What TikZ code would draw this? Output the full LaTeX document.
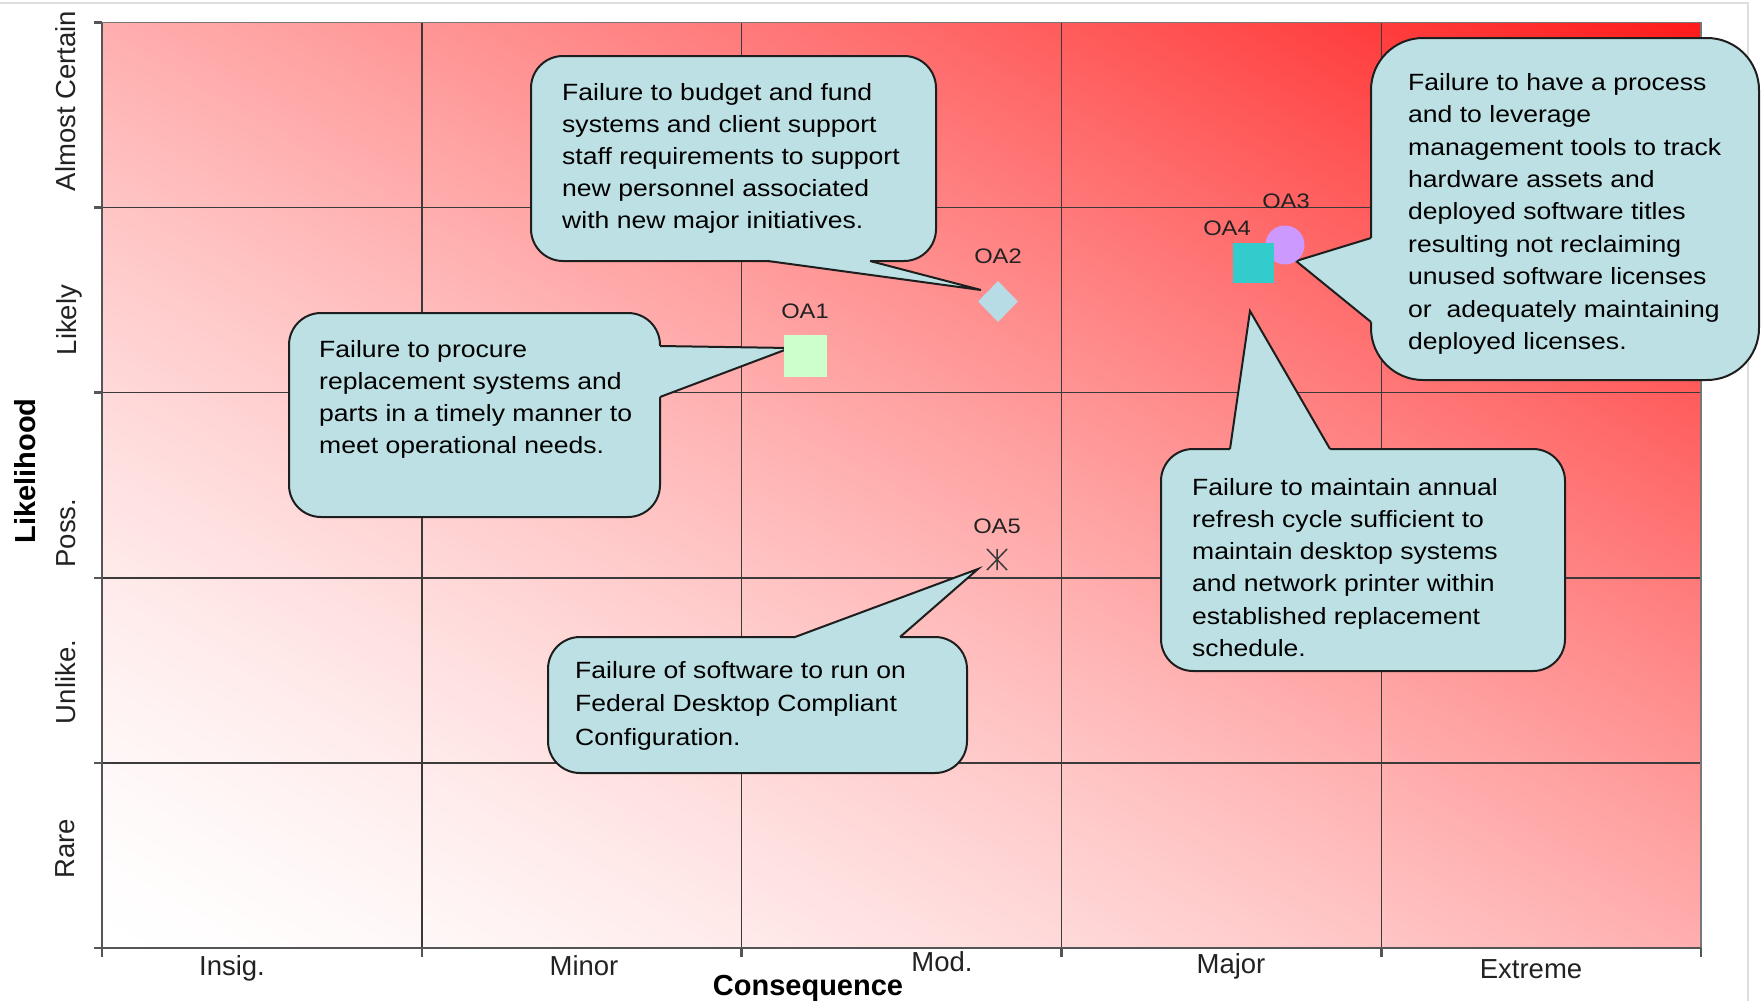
\documentclass[tikz,border=0pt]{standalone}
\usepackage{fontspec}
\setmainfont{Liberation Sans}
\newfontfamily\calloutfont[FakeStretch=1.13]{Liberation Sans}
\usetikzlibrary{shapes.geometric}

\definecolor{gridgray}{HTML}{3A3A3A}
\definecolor{axisgray}{HTML}{555555}
\definecolor{calloutfill}{HTML}{BCE0E3}
\definecolor{calloutedge}{HTML}{1E1E1E}
\definecolor{oagreen}{HTML}{CCFFCC}
\definecolor{oablue}{HTML}{B7DCE6}
\definecolor{oaviolet}{HTML}{CC99FF}
\definecolor{oateal}{HTML}{33CCCC}
\definecolor{framegray}{HTML}{DEDEDE}
\definecolor{labelgray}{HTML}{222222}

% white (low risk, lower left) to red (high risk, upper right)
\pgfdeclarefunctionalshading{riskgrad}{\pgfpoint{-50bp}{-50bp}}{\pgfpoint{50bp}{50bp}}{}{
  add 50 add 100 div
  dup 0 lt {pop 0} if
  dup 1 gt {pop 1} if
  1.5 exp 0.898 mul 1 exch sub
  1 exch dup
}

\begin{document}
\begin{tikzpicture}[x=1pt,y=-1pt,
  gridline/.style={draw=gridgray, line width=1.4},
  axisline/.style={draw=axisgray, line width=2.6},
  borderline/.style={draw=axisgray!80, line width=1.4},
  frameline/.style={draw=framegray, line width=1.5},
  bubble/.style={fill=calloutfill, draw=calloutedge, line width=2, rounded corners=32},
  bubbletip/.style={fill=calloutfill},
  tipedge/.style={draw=calloutedge, line width=2, line join=miter},
  bubbletext/.style={anchor=north west, inner sep=0, align=left, text=black},
  oalabel/.style={inner sep=0, text=labelgray, font=\calloutfont\fontsize{21}{25}\selectfont},
  ylabel/.style={rotate=90, anchor=base, inner sep=0, text=labelgray, font=\fontsize{27.5}{33}\selectfont},
  xlabel/.style={anchor=base, inner sep=0, text=labelgray, font=\fontsize{27.5}{33}\selectfont},
  axistitle/.style={anchor=base, inner sep=0, text=black, font=\fontsize{29}{35}\selectfont\bfseries},
  starline/.style={draw=gridgray, line width=1.5}
]
\useasboundingbox (0,0) rectangle (1764,1001);
\fill[white] (0,0) rectangle (1764,1001);
\draw[frameline] (0,3) -- (1748,3) -- (1748,1001);

% risk field
\shade[shading=riskgrad] (102,22.5) rectangle (1701,948);

% grid
\foreach \x in {421.8,741.6,1061.4,1381.2}
  \draw[gridline] (\x,22.5) -- (\x,948);
\foreach \y in {207.6,392.7,577.8,762.9}
  \draw[gridline] (102,\y) -- (1701,\y);
\draw[borderline] (102,22.5) -- (1701,22.5) -- (1701,948);
\draw[axisline] (102,22.5) -- (102,948) -- (1701,948);
\foreach \y in {22.5,207.6,392.7,577.8,762.9,948}
  \draw[axisline] (94,\y) -- (102,\y);
\foreach \x in {102,421.8,741.6,1061.4,1381.2,1701}
  \draw[axisline] (\x,948) -- (\x,957);

% likelihood scale
\node[ylabel] (lAC) at (75,101) {Almost Certain};
\node[ylabel] (lLi) at (76,320) {Likely};
\node[ylabel] (lPo) at (75,533) {Poss.};
\node[ylabel] (lUn) at (75,682) {Unlike.};
\node[ylabel] (lRa) at (74,849) {Rare};
\node[axistitle, rotate=90] (lTitle) at (35,471) {Likelihood};

% consequence scale
\node[xlabel] (cIn) at (232,975) {Insig.};
\node[xlabel] (cMi) at (584,975) {Minor};
\node[xlabel] (cMo) at (942,971) {Mod.};
\node[xlabel] (cMa) at (1231,973) {Major};
\node[xlabel] (cEx) at (1531,978) {Extreme};
\node[axistitle] (cTitle) at (808,995) {Consequence};

% pointer tips
\coordinate (tipA) at (981,290);
\coordinate (tipB) at (790,348);
\coordinate (tipC) at (1296,261);
\coordinate (tipD) at (1250,311);
\coordinate (tipE) at (978,569);

% callout for OA2
\draw[bubble] (531,56) rectangle (936,261);
\fill[bubbletip] (768,256) -- (768,261) -- (tipA) -- (870,261) -- (870,256) -- cycle;
\draw[tipedge] (768,261) -- (tipA) -- (870,261);
\node[bubbletext, font=\calloutfont\fontsize{23.5}{32}\selectfont] (txtA) at (562,83)
  {Failure to budget and fund\\systems and client support\\staff requirements to support\\new personnel associated\\with new major initiatives.};

% callout for OA1
\draw[bubble] (289,313) rectangle (660,517);
\fill[bubbletip] (655,346) -- (660,346) -- (tipB) -- (660,397) -- (655,397) -- cycle;
\draw[tipedge] (660,346) -- (tipB) -- (660,397);
\node[bubbletext, font=\calloutfont\fontsize{23.5}{32}\selectfont] (txtB) at (319,340)
  {Failure to procure\\replacement systems and\\parts in a timely manner to\\meet operational needs.};

% callout for OA3
\draw[bubble, rounded corners=52] (1371,38) rectangle (1759,380);
\fill[bubbletip] (1376,238) -- (1371,238) -- (tipC) -- (1371,322) -- (1376,322) -- cycle;
\draw[tipedge] (1371,238) -- (tipC) -- (1371,322);
\node[bubbletext, font=\calloutfont\fontsize{23.5}{32.4}\selectfont] (txtC) at (1408,73)
  {Failure to have a process\\and to leverage\\management tools to track\\hardware assets and\\deployed software titles\\resulting not reclaiming\\unused software licenses\\or\ \ adequately maintaining\\deployed licenses.};

% callout for OA4
\draw[bubble] (1161,449) rectangle (1565,671);
\fill[bubbletip] (1230,454) -- (1230,449) -- (tipD) -- (1330,449) -- (1330,454) -- cycle;
\draw[tipedge] (1230,449) -- (tipD) -- (1330,449);
\node[bubbletext, font=\calloutfont\fontsize{23.5}{32.2}\selectfont] (txtD) at (1192,478)
  {Failure to maintain annual\\refresh cycle sufficient to\\maintain desktop systems\\and network printer within\\established replacement\\schedule.};

% callout for OA5
\draw[bubble] (548,637) rectangle (967,773);
\fill[bubbletip] (795,642) -- (795,637) -- (tipE) -- (900,637) -- (900,642) -- cycle;
\draw[tipedge] (795,637) -- (tipE) -- (900,637);
\node[bubbletext, font=\calloutfont\fontsize{23.5}{33.5}\selectfont] (txtE) at (575,661)
  {Failure of software to run on\\Federal Desktop Compliant\\Configuration.};

% risk markers
\node[fill=oagreen, minimum width=43, minimum height=42, inner sep=0] (oa1) at (805.5,356) {};
\node[diamond, fill=oablue, minimum width=40, minimum height=41, inner sep=0] (oa2) at (998,301.5) {};
\node[circle, fill=oaviolet, minimum size=39, inner sep=0] (oa3) at (1285,245) {};
\node[fill=oateal, minimum width=41, minimum height=40, inner sep=0] (oa4) at (1253.5,263) {};
\coordinate (oa5) at (997,559.5);
\draw[starline] (oa5) ++(-10,-10.5) -- ++(20,21)
                (oa5) ++(10,-10.5) -- ++(-20,21)
                (oa5) ++(0,-10.5) -- ++(0,21);

\node[oalabel] (oa1lab) at (805,311) {OA1};
\node[oalabel] (oa2lab) at (998,256) {OA2};
\node[oalabel] (oa3lab) at (1286,201) {OA3};
\node[oalabel] (oa4lab) at (1227,228) {OA4};
\node[oalabel] (oa5lab) at (997,526) {OA5};
\end{tikzpicture}
\end{document}
